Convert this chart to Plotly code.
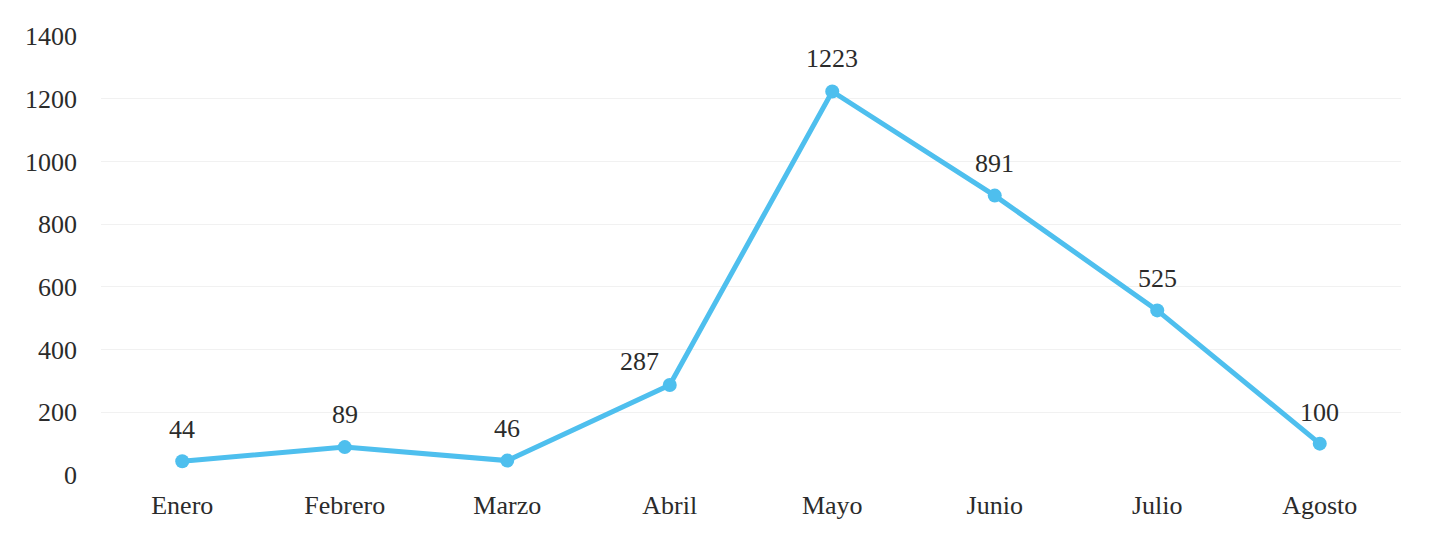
import plotly.graph_objects as go

meses = ["Enero", "Febrero", "Marzo", "Abril", "Mayo", "Junio", "Julio", "Agosto"]
valores = [44, 89, 46, 287, 1223, 891, 525, 100]
desplaz_x = [0, 0, 0, -30, 0, 0, 0, 0]
desplaz_y = [32, 33, 32, 24, 33, 32, 32, 31]
y_ticks = [0, 200, 400, 600, 800, 1000, 1200, 1400]

COLOR = "#4EBFEE"
FONT = "Liberation Serif"

fig = go.Figure()
fig.add_trace(go.Scatter(
    x=meses, y=valores,
    mode="lines+markers",
    line=dict(color=COLOR, width=5),
    marker=dict(color=COLOR, size=14),
    cliponaxis=False,
    showlegend=False,
))

for m, v, dx, dy in zip(meses, valores, desplaz_x, desplaz_y):
    fig.add_annotation(x=m, y=v, text=str(v), showarrow=False,
                       xshift=dx, yshift=dy,
                       font=dict(family=FONT, size=26, color="#2b2b2b"))

fig.update_layout(
    width=1426, height=525,
    margin=dict(l=93, r=33, t=28, b=58),
    paper_bgcolor="white", plot_bgcolor="white",
    font=dict(family=FONT, size=26, color="#2b2b2b"),
    xaxis=dict(type="category", range=[-0.5, 7.5], showgrid=False, showline=False,
               zeroline=False, ticks="", ticklabelstandoff=12),
    yaxis=dict(range=[0, 1400], tickvals=y_ticks, showgrid=True, gridcolor="#f1f1f1",
               gridwidth=1, zeroline=False, showline=False, ticks="",
               ticklabelstandoff=23),
)

fig.write_html("out.html")
